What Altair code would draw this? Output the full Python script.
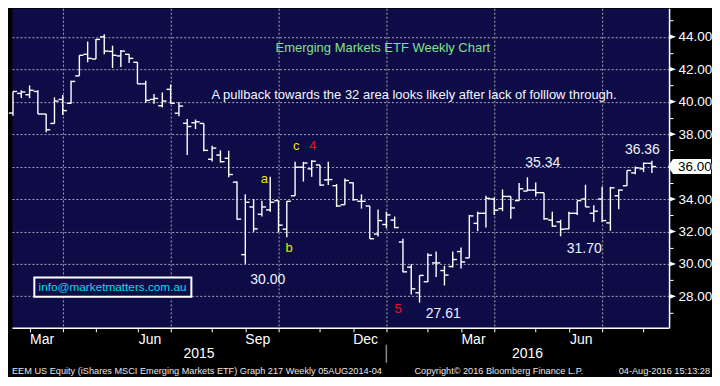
import altair as alt
import pandas as pd

W, H = 658, 320
NAVY = "#0e0c46"
GRID = "#a9a9b4"
FONT = "Liberation Sans, Arial, sans-serif"
NARROW = "Liberation Sans Narrow, Arial Narrow, Liberation Sans, sans-serif"

# ---- weekly OHLC (EEM), first week ending 2015-02-13 ----
first_week = "2015-02-13"
opens = [39.30, 40.51, 40.43, 40.63, 39.24, 38.66, 40.14, 39.90, 41.59, 42.92,
         42.63, 44.00, 43.10, 42.82, 42.92, 42.43, 41.10, 40.14, 39.75, 40.76,
         39.29, 38.67, 38.70, 38.66, 36.45, 36.71, 36.51, 35.04, 30.57, 33.51,
         33.06, 33.33, 33.90, 32.14, 34.20, 35.96, 35.86, 36.10, 35.18, 34.82,
         33.65, 35.00, 33.86, 33.57, 31.84, 32.43, 32.70, 31.35, 29.80, 28.22,
         28.90, 30.06, 29.59, 29.84, 30.76, 30.37, 32.50, 33.12, 34.00, 33.41,
         34.16, 33.90, 34.49, 34.55, 34.39, 32.70, 32.59, 32.16, 33.12, 34.00,
         33.12, 34.00, 32.53, 34.20, 34.82, 35.61, 35.86, 36.20]
highs = [40.63, 40.71, 41.00, 40.71, 39.24, 40.27, 40.41, 41.29, 42.86, 43.71,
         43.86, 44.16, 43.45, 43.18, 42.92, 42.43, 41.29, 40.47, 40.57, 41.06,
         39.98, 38.94, 38.90, 38.66, 37.29, 37.00, 36.98, 35.08, 34.29, 34.00,
         33.90, 35.37, 33.90, 33.86, 36.29, 36.29, 36.39, 36.10, 36.29, 34.92,
         35.27, 35.02, 34.29, 33.57, 33.35, 33.22, 32.92, 31.55, 29.98, 29.29,
         30.65, 30.76, 29.88, 30.76, 31.01, 33.02, 33.22, 34.20, 34.10, 34.59,
         34.16, 34.98, 35.34, 35.02, 34.39, 33.22, 32.72, 33.22, 33.90, 34.88,
         33.61, 34.75, 34.75, 34.59, 35.76, 36.00, 36.25, 36.36]
lows = [39.14, 40.22, 40.22, 39.24, 38.12, 38.66, 39.18, 39.88, 41.59, 42.43,
        42.63, 42.92, 42.08, 42.14, 42.39, 41.10, 39.92, 39.88, 39.65, 39.88,
        39.10, 36.71, 38.31, 36.94, 36.31, 36.25, 35.34, 32.72, 30.00, 31.98,
        32.92, 33.22, 31.94, 31.65, 34.20, 35.08, 35.37, 34.82, 34.86, 33.51,
        33.65, 33.90, 33.41, 31.55, 31.69, 32.20, 32.20, 29.49, 28.12, 27.61,
        28.88, 29.19, 28.67, 29.78, 29.72, 30.37, 32.02, 32.24, 33.02, 33.25,
        32.78, 33.90, 34.49, 34.16, 32.72, 32.28, 31.70, 32.14, 33.02, 33.51,
        32.59, 32.59, 32.04, 33.37, 34.82, 35.53, 35.66, 35.60]
closes = [40.63, 40.60, 40.70, 39.24, 38.27, 40.04, 39.45, 41.25, 42.86, 42.67,
          43.84, 43.12, 42.86, 43.12, 42.67, 41.10, 40.08, 40.20, 40.04, 39.90,
          39.73, 38.47, 38.76, 37.00, 37.14, 36.30, 35.51, 32.76, 33.80, 32.16,
          33.51, 33.80, 32.39, 33.86, 35.96, 36.22, 36.33, 34.86, 35.20, 33.57,
          35.14, 33.96, 33.86, 31.55, 32.67, 33.02, 32.24, 29.51, 28.46, 29.29,
          30.54, 30.06, 29.31, 30.27, 30.12, 32.96, 33.12, 34.04, 33.31, 34.16,
          33.45, 34.63, 34.55, 34.39, 32.78, 32.33, 32.14, 33.12, 33.90, 33.51,
          33.25, 32.67, 34.69, 34.55, 35.76, 35.92, 36.20, 36.00]

# axis ticks: last weekly bar of each month
month_end_bars = [(2015, 2, 27), (2015, 3, 27), (2015, 4, 24), (2015, 5, 29), (2015, 6, 26),
                  (2015, 7, 31), (2015, 8, 28), (2015, 9, 25), (2015, 10, 30), (2015, 11, 27),
                  (2015, 12, 25), (2016, 1, 29), (2016, 2, 26), (2016, 3, 25), (2016, 4, 29),
                  (2016, 5, 27), (2016, 6, 24), (2016, 7, 29)]
price_ticks = list(range(27, 46))
major_prices = list(range(28, 46, 2))
last_price = [36.0]

years = ["2015", "2016"]
year_dates = ["2015-07-20", "2016-04-22"]
year_break = ["2015-12-25"]

ann_text = ["a", "b", "c", "4", "5", "30.00", "27.61", "35.34", "31.70", "36.36"]
ann_dates = ["2015-09-13", "2015-10-04", "2015-10-10", "2015-10-24", "2016-01-04",
             "2015-09-16", "2016-02-11", "2016-05-05", "2016-06-09", "2016-07-28"]
ann_prices = [35.24, 30.96, 37.29, 37.24, 27.24, 29.00, 26.90, 36.20, 30.92, 37.04]
ann_kind = ["wave", "wave", "wave", "count", "count", "level", "level", "level", "level", "level"]

title_text = ["Emerging Markets ETF Weekly Chart"]
title_date = ["2015-12-22"]
title_price = [43.31]
note_text = ["A pullback towards the 32 area looks likely after lack of folllow through."]
note_date = ["2015-07-30T12:00:00"]
note_price = [40.41]

email_text = ["info@marketmatters.com.au"]
email_box = {"d1": ["2015-03-03"], "d2": ["2015-07-13T12:00:00"], "p1": [27.98], "p2": [29.16]}
email_pos = {"d": ["2015-05-08"], "p": [28.56]}

footer_left = "EEM US Equity (iShares MSCI Emerging Markets ETF) Graph 217  Weekly 05AUG2014-04"
footer_mid = "Copyright\u00a9 2016 Bloomberg Finance L.P."
footer_right = "04-Aug-2016 15:13:28"

# ---- data frames ----
dates = pd.date_range(first_week, periods=len(opens), freq="7D")
df = pd.DataFrame({"date": dates, "open": opens, "high": highs, "low": lows, "close": closes})
df["odate"] = df["date"] - pd.Timedelta(hours=84)
df["cdate"] = df["date"] + pd.Timedelta(hours=84)

ann = pd.DataFrame({"text": ann_text, "date": pd.to_datetime(ann_dates),
                    "price": ann_prices, "kind": ann_kind})

xscale = alt.Scale(domain=[alt.DateTime(year=2015, month=2, date=12, hours=4),
                           alt.DateTime(year=2016, month=8, date=19, hours=12)], nice=False)
yscale = alt.Scale(domain=[26.06, 45.76], nice=False, zero=False)

QTEST = "indexof([2,5,8,11], month(datum.value)) >= 0"
NEXT = "timeOffset('day', datum.value, 7)"
xaxis = alt.Axis(
    values=[alt.DateTime(year=y, month=m, date=d) for (y, m, d) in month_end_bars],
    title=None, grid=True, gridColor=GRID, gridDash=[2, 2], gridWidth=1,
    gridOpacity={"condition": {"test": QTEST, "value": 1}, "value": 0},
    labelExpr=f"indexof([2,5,8,11], month({NEXT})) >= 0 ? timeFormat({NEXT}, '%b') : ''",
    labelOffset=12, labelPadding=7.5, labelBaseline="middle", labelAlign="center",
    labelFont=NARROW, labelFontSize=14, labelColor="white",
    labelOverlap=False, labelFlush=False, labelBound=False,
    tickColor="white", tickSize=4, tickWidth=1, domainColor="white", domainWidth=1.5)

yaxis = alt.Axis(
    orient="right", values=price_ticks, title=None,
    labelExpr="datum.value % 2 == 0 ? format(datum.value, '.2f') : ''",
    labelColor="white", labelFont=FONT, labelFontSize=13.5, labelPadding=5,
    labelBaseline="middle", labelOverlap=False,
    tickColor="white", tickSize=4,
    tickOpacity={"condition": {"test": "datum.value % 2 == 0", "value": 0}, "value": 1},
    grid=True, gridColor=GRID, gridDash=[2, 2],
    gridOpacity={"condition": {"test": "datum.value % 2 == 0", "value": 1}, "value": 0},
    domainColor="white", domainWidth=1.5)


def X(field):
    return alt.X(field, type="temporal", scale=xscale, axis=xaxis)


def Y(field):
    return alt.Y(field, type="quantitative", scale=yscale, axis=yaxis)


hl = alt.Chart(df).mark_rule(color="white", strokeWidth=1.4).encode(
    x=X("date"), y=Y("low"), y2="high")
op = alt.Chart(df).mark_rule(color="white", strokeWidth=1.4).encode(
    x=X("odate"), x2="date", y=Y("open"))
cl = alt.Chart(df).mark_rule(color="white", strokeWidth=1.4).encode(
    x=X("date"), x2="cdate", y=Y("close"))

box_df = pd.DataFrame({"d1": pd.to_datetime(email_box["d1"]), "d2": pd.to_datetime(email_box["d2"]),
                       "p1": email_box["p1"], "p2": email_box["p2"]})
email_rect = alt.Chart(box_df).mark_rect(fill=NAVY, stroke="white", strokeWidth=2).encode(
    x=X("d1"), x2="d2", y=Y("p1"), y2="p2")
email = alt.Chart(pd.DataFrame({"t": email_text, "d": pd.to_datetime(email_pos["d"]), "p": email_pos["p"]})
                  ).mark_text(color="#00dde6", font=FONT, fontSize=11.8, baseline="middle").encode(
    x=X("d"), y=Y("p"), text="t:N")

ann_layer = alt.Chart(ann).mark_text(font=FONT, baseline="middle").encode(
    x=X("date"), y=Y("price"), text="text:N",
    color=alt.Color("kind:N", scale=alt.Scale(domain=["wave", "count", "level"],
                                              range=["#f0e400", "#e8141e", "#eef2ff"]), legend=None),
    size=alt.Size("kind:N", scale=alt.Scale(domain=["wave", "count", "level"],
                                            range=[13, 14, 13.5]), legend=None))

title = alt.Chart(pd.DataFrame({"t": title_text, "d": pd.to_datetime(title_date), "p": title_price})
                  ).mark_text(color="#84e08a", font=FONT, fontSize=13, baseline="middle").encode(
    x=X("d"), y=Y("p"), text="t:N")
note = alt.Chart(pd.DataFrame({"t": note_text, "d": pd.to_datetime(note_date), "p": note_price})
                 ).mark_text(color="#f4f6ff", font=FONT, fontSize=13, baseline="middle", align="left").encode(
    x=X("d"), y=Y("p"), text="t:N")

TRI = "M-1,-0.75L1,0L-1,0.75Z"
tri = alt.Chart(pd.DataFrame({"v": major_prices})).mark_point(
    shape=TRI, filled=True, color="white", size=49, opacity=1).encode(
    x=alt.value(W + 3.5), y=Y("v"))

BOX = "M-1,0L-0.77,-0.35L1,-0.35L1,0.35L-0.77,0.35Z"
pbox = alt.Chart(pd.DataFrame({"v": last_price})).mark_point(
    shape=BOX, filled=True, color="white", size=43 * 43, opacity=1).encode(
    x=alt.value(W + 20.5), y=Y("v"))
ptxt = alt.Chart(pd.DataFrame({"v": last_price})).mark_text(
    color="#000000", font=FONT, fontSize=13.5, align="left", baseline="middle").encode(
    x=alt.value(W + 9), y=Y("v"), text=alt.Text("v:Q", format=".2f"))

yr = alt.Chart(pd.DataFrame({"y": years, "d": pd.to_datetime(year_dates)})).mark_text(
    color="white", font=NARROW, fontSize=14, baseline="middle").encode(
    x=X("d"), y=alt.value(H + 26.5), text="y:N")
ysep = alt.Chart(pd.DataFrame({"d": pd.to_datetime(year_break)})).mark_rule(
    color="#8a8a8a", strokeWidth=1.5).encode(
    x=X("d"), y=alt.value(H + 17), y2=alt.value(H + 35))

FOOT = 9.2
fdf = pd.DataFrame({"l": [footer_left], "m": [footer_mid], "r": [footer_right]})
f_l = alt.Chart(fdf).mark_text(color="#e8e8e8", font=NARROW, fontSize=FOOT, align="left",
                               baseline="middle").encode(x=alt.value(0), y=alt.value(H + 43), text="l:N")
f_m = alt.Chart(fdf).mark_text(color="#e8e8e8", font=NARROW, fontSize=FOOT, align="left",
                               baseline="middle").encode(x=alt.value(403), y=alt.value(H + 43), text="m:N")
f_r = alt.Chart(fdf).mark_text(color="#e8e8e8", font=NARROW, fontSize=FOOT, align="right",
                               baseline="middle").encode(x=alt.value(W + 41), y=alt.value(H + 43), text="r:N")

chart = alt.layer(hl, op, cl, email_rect, email, ann_layer, title, note, tri, pbox, ptxt,
                  yr, ysep, f_l, f_m, f_r).properties(
    width=W, height=H, background="black", padding=0
).configure_view(fill=NAVY, stroke="transparent")

chart.save("out.html", embed_options={"renderer": "svg", "actions": False})
